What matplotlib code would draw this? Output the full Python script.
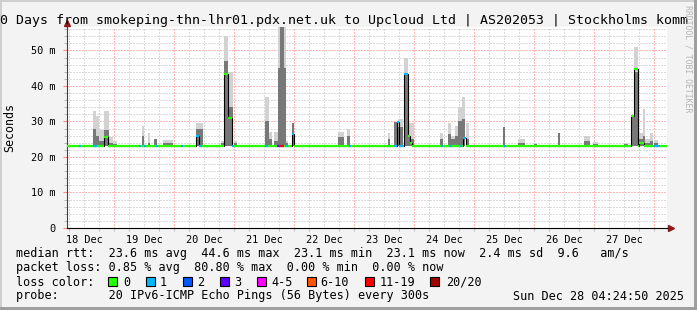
import numpy as np
import matplotlib.pyplot as plt
from matplotlib.patches import Rectangle
from matplotlib.transforms import Bbox, TransformedBbox

plt.rcParams['font.family'] = 'DejaVu Sans Mono'

# time axis: day of December 2025
x_start, x_end = 18.217, 28.217
day_ticks = [18.5, 19.5, 20.5, 21.5, 22.5, 23.5, 24.5, 25.5, 26.5, 27.5]
day_labels = ['18 Dec', '19 Dec', '20 Dec', '21 Dec', '22 Dec',
              '23 Dec', '24 Dec', '25 Dec', '26 Dec', '27 Dec']
y_ticks = [0, 10, 20, 30, 40, 50]
y_labels = ['0', '10 m', '20 m', '30 m', '40 m', '50 m']

# smoke columns: start, end (days), outer top, inner top (ms)
smoke_start = [18.650, 18.700, 18.750, 18.834, 18.917, 18.984, 19.467, 19.567, 19.667, 19.817,
               20.367, 20.784, 20.834, 20.900, 21.000, 21.517, 21.584, 21.667, 21.734, 21.767,
               21.834, 21.867, 21.967, 22.734, 22.884, 23.567, 23.667, 23.734, 23.834, 23.900,
               23.950, 24.434, 24.567, 24.617, 24.684, 24.734, 24.800, 24.867, 25.484, 25.734,
               26.000, 26.400, 26.834, 26.984, 27.500, 27.617, 27.667, 27.750, 27.817, 27.850,
               27.934, 28.000]
smoke_end = [18.700, 18.750, 18.834, 18.917, 18.984, 19.050, 19.500, 19.600, 19.717, 19.984,
             20.484, 20.834, 20.900, 20.984, 21.050, 21.584, 21.634, 21.734, 21.767, 21.834,
             21.867, 21.900, 22.000, 22.834, 22.934, 23.600, 23.734, 23.817, 23.900, 23.950,
             24.000, 24.484, 24.617, 24.684, 24.734, 24.800, 24.850, 24.917, 25.517, 25.850,
             26.050, 26.434, 26.934, 27.067, 27.567, 27.667, 27.734, 27.817, 27.850, 27.934,
             27.984, 28.067]
smoke_top = [33.0, 31.5, 27.5, 33.0, 25.5, 24.5, 28.6, 26.7, 25.0, 24.7,
             29.5, 24.5, 54.0, 44.0, 24.5, 37.0, 27.0, 27.0, 60.0, 60.0,
             60.0, 24.5, 29.5, 27.0, 28.0, 26.7, 29.8, 30.6, 48.0, 29.5,
             29.5, 26.7, 29.5, 26.0, 28.6, 34.0, 36.8, 29.5, 28.4, 25.0,
             24.0, 26.7, 25.8, 24.2, 24.0, 31.5, 51.0, 26.7, 33.4, 25.0,
             26.7, 24.7]
smoke_mid = [28.0, 26.0, 24.5, 27.5, 24.0, 23.6, 26.0, 24.0, 25.0, 23.8,
             28.0, 23.8, 47.0, 34.0, 23.8, 30.0, 25.0, 24.5, 45.0, 60.0,
             45.0, 23.8, 29.5, 25.5, 26.0, 25.0, 29.8, 28.5, 43.0, 26.0,
             25.0, 25.0, 26.5, 25.0, 26.0, 30.0, 30.6, 25.0, 28.4, 24.0,
             23.6, 26.7, 24.5, 23.6, 23.6, 31.5, 44.0, 25.0, 26.0, 24.0,
             24.5, 23.8]

# median rtt samples: start (days), value (ms), lost pings of 20
med_t = [18.217, 18.417, 18.450, 18.650, 18.717, 18.834, 18.900, 19.417, 19.450, 19.500,
         19.534, 19.700, 19.734, 20.117, 20.150, 20.367, 20.417, 20.467, 20.834, 20.900,
         20.967, 21.000, 21.517, 21.567, 21.717, 21.750, 21.834, 21.850, 21.900, 21.967,
         22.000, 22.917, 22.950, 23.667, 23.717, 23.750, 23.817, 23.834, 23.900, 23.934,
         23.967, 24.450, 24.484, 24.584, 24.634, 24.767, 24.800, 24.817, 24.867, 25.500,
         25.534, 27.617, 27.667, 27.734, 27.750, 27.834, 28.000, 28.100]
med_v = [23.1, 23.1, 23.1, 23.1, 23.1, 25.5, 23.1, 23.1, 23.1, 23.1,
         23.1, 23.1, 23.1, 23.1, 23.1, 26.0, 23.1, 23.1, 43.5, 31.0,
         23.1, 23.1, 23.1, 23.1, 23.1, 23.1, 23.1, 23.1, 23.1, 26.4,
         23.1, 23.1, 23.1, 23.1, 29.8, 23.1, 23.1, 43.3, 25.8, 24.0,
         23.1, 23.1, 23.1, 23.1, 23.1, 23.1, 23.1, 25.3, 23.1, 23.1,
         23.1, 31.5, 44.7, 23.1, 23.8, 23.1, 23.1, 23.1]
med_loss = [0, 1, 0, 1, 0, 0, 0, 1, 0, 1,
            0, 1, 0, 1, 0, 1, 1, 0, 0, 0,
            1, 0, 1, 0, 3, 12, 0, 1, 0, 1,
            0, 1, 0, 1, 1, 1, 0, 1, 0, 0,
            0, 1, 0, 1, 0, 1, 0, 1, 0, 1,
            0, 0, 0, 0, 0, 0, 1, 0]

loss_names = ['0', '1', '2', '3', '4-5', '6-10', '11-19', '20/20']
loss_colors = ['#26ff00', '#00b8ff', '#0059ff', '#5e00ff', '#ff00ff', '#ff5500', '#ff0000', '#a10000']
loss_edges = [0, 1, 2, 3, 5, 10, 19, 20]

rtt_line = 'median rtt:  23.6 ms avg  44.6 ms max  23.1 ms min  23.1 ms now  2.4 ms sd  9.6   am/s'
loss_line = 'packet loss: 0.85 % avg  80.80 % max  0.00 % min  0.00 % now'
probe_line = 'probe:       20 IPv6-ICMP Echo Pings (56 Bytes) every 300s'
stamp_text = 'Sun Dec 28 04:24:50 2025'
title = '10 Days from smokeping-thn-lhr01.pdx.net.uk to Upcloud Ltd | AS202053 | Stockholms kommun'


def loss_color(n):
    for edge, c in zip(loss_edges, loss_colors):
        if n <= edge:
            return c
    return loss_colors[-1]


W, H = 697, 310
fig = plt.figure(figsize=(W / 100, H / 100), dpi=100, facecolor='#f3f3f3')
ax = fig.add_axes([67 / W, (H - 228) / H, 600 / W, 201 / H])
ax.set_xlim(x_start, x_end)
ax.set_ylim(0, 56.6)
ax.set_facecolor('white')

# dotted grid
dots = (0, (1, 2))
for y in np.arange(2, 57, 2):
    major = y % 10 == 0
    ax.axhline(y, color='#ff7070' if major else '#b8b8b8', lw=0.72, ls=dots, zorder=0.5)
for d in np.arange(18.25, x_end, 0.25):
    major = abs(d - round(d)) < 1e-6
    ax.axvline(d, color='#ff7070' if major else '#b8b8b8', lw=0.72, ls=dots, zorder=0.5)

# smoke
sw = np.array(smoke_end) - np.array(smoke_start)
ax.bar(smoke_start, np.array(smoke_top) - 23.0, width=sw, bottom=23.0, align='edge',
       color='#d2d2d2', lw=0, zorder=1)
ax.bar(smoke_start, np.array(smoke_mid) - 23.0, width=sw, bottom=23.0, align='edge',
       color='#787878', lw=0, zorder=1.1)

# median line, coloured by loss
t_end = med_t[1:] + [x_end]
ax.step(med_t + [x_end], med_v + [med_v[-1]], where='post', color='black', lw=0.8, zorder=2)
ax.hlines(med_v, med_t, t_end, colors=[loss_color(n) for n in med_loss], lw=1.6,
          zorder=3, capstyle='butt')

# axes & ticks
for s in ['top', 'right']:
    ax.spines[s].set_visible(False)
ax.spines['left'].set_color('#404040')
ax.spines['bottom'].set_color('black')
ax.set_yticks(y_ticks, y_labels)
ax.set_yticks(np.arange(0, 57, 2), minor=True)
ax.set_xticks(day_ticks, day_labels)
ax.set_xticks(np.arange(18.25, x_end, 0.25), minor=True)
ax.tick_params(axis='y', which='major', length=3, color='#ff8c8c', pad=5, labelsize=7.4)
ax.tick_params(axis='y', which='minor', length=2, color='#b0b0b0')
ax.tick_params(axis='x', which='major', length=0, pad=5, labelsize=7.4)
ax.tick_params(axis='x', which='minor', length=2, color='#b0b0b0')

# axis arrows
ax.plot([0, 0], [1, 1.02], transform=ax.transAxes, color='#404040', lw=0.8, clip_on=False)
ax.plot([0], [1.018], marker='^', ms=4.5, color='#8b1a1a', transform=ax.transAxes, clip_on=False)
ax.plot([1, 1.005], [0, 0], transform=ax.transAxes, color='black', lw=0.8, clip_on=False)
ax.plot([1.006], [0], marker='>', ms=4.5, color='#8b1a1a', transform=ax.transAxes, clip_on=False)

# title, runs past the right edge as in the original
t = fig.text(-8 / W, 1 - 24 / H, title, fontsize=9.55, ha='left', va='baseline')
t.set_clip_box(TransformedBbox(Bbox([[0, 0], [689 / W, 1]]), fig.transFigure))
t.set_clip_on(True)

fig.text(10 / W, 1 - 128 / H, 'Seconds', rotation=90, ha='center', va='center', fontsize=8.4)
fig.text(688 / W, 1 - 5 / H, 'RRDTOOL / TOBI OETIKER', rotation=270, ha='center', va='top',
         fontsize=5.9, color='#b4b4b4')

# legend block
fs = 8.5
def line(y, x, s):
    fig.text(x / W, 1 - y / H, s, fontsize=fs, ha='left', va='baseline')

line(257.5, 16, rtt_line)
line(271.5, 16, loss_line)
line(285.5, 16, 'loss color:')
box_x = [108, 146, 183, 220, 257, 307, 365, 430]
lab_x = [123, 160, 197, 234, 271, 320, 380, 446]
for bx, lx, name, c in zip(box_x, lab_x, loss_names, loss_colors):
    fig.patches.append(Rectangle((bx / W, 1 - 286 / H), 9 / W, 9 / H, transform=fig.transFigure,
                                 facecolor=c, edgecolor='black', lw=0.8))
    line(285.5, lx, name)
line(299.5, 16, probe_line)
line(299.5, 513, stamp_text)

# frame shading
fig.patches.append(Rectangle((0, 0), 2 / W, 1, transform=fig.transFigure, facecolor='#cfcfcf', lw=0))
fig.patches.append(Rectangle((0, 1 - 2 / H), 1, 2 / H, transform=fig.transFigure, facecolor='#cfcfcf', lw=0))
fig.patches.append(Rectangle((1 - 3 / W, 0), 3 / W, 1, transform=fig.transFigure, facecolor='#9e9e9e', lw=0))
fig.patches.append(Rectangle((0, 0), 1, 3 / H, transform=fig.transFigure, facecolor='#9e9e9e', lw=0))

fig.savefig('out.png', dpi=100, facecolor=fig.get_facecolor())
